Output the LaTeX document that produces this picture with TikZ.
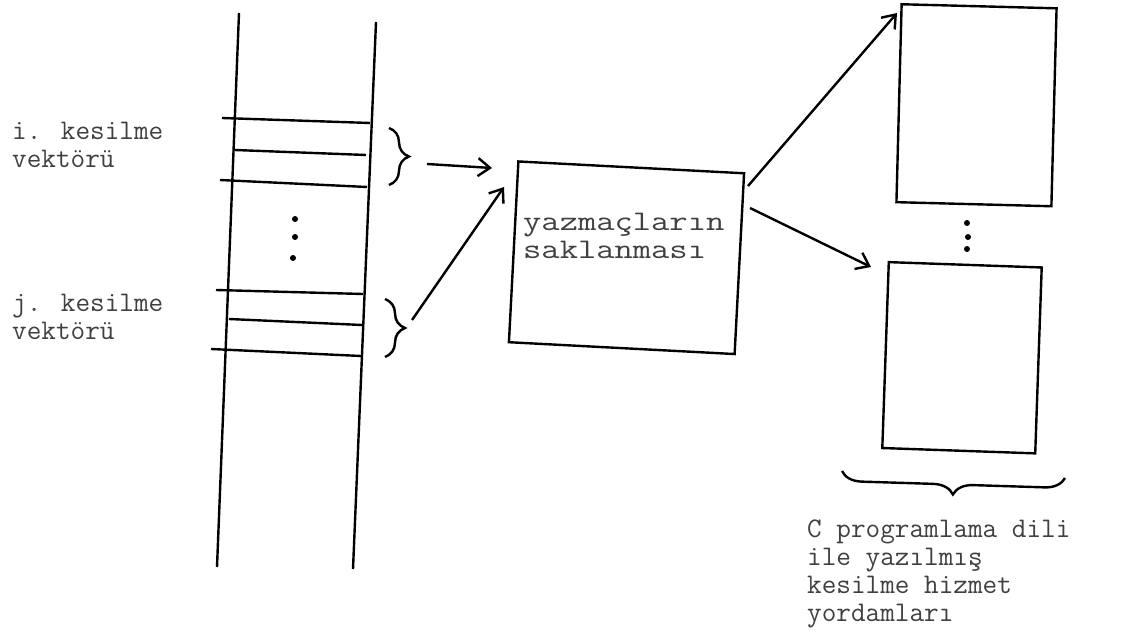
\documentclass[tikz,border=0pt]{standalone}
\usepackage{tikz}
\usetikzlibrary{arrows.meta,decorations.pathreplacing}

\newcommand{\wide}[1]{\scalebox{1.25}[1]{#1}}

\begin{document}
\begin{tikzpicture}[x=0.5pt, y=-0.5pt, line width=1.2pt,
    tw/.style={font=\ttfamily\fontsize{14.2}{14}\selectfont, text=black!75, align=left, inner sep=0pt},
    frame/.style={draw, rectangle, inner sep=0pt},
    brc/.style={decorate, decoration={brace, amplitude=10pt}},
    >={Straight Barb[length=6pt,width=9pt]}]
    \useasboundingbox (0,0) rectangle (1134,641);

    % vector table
    \draw (239,13) -- (217,567);
    \draw (376,22) -- (353,569);
    \draw (222,118) -- (370,123);
    \draw (235,150) -- (366,155);
    \draw (220,180) -- (367,187);
    \draw (216,290) -- (363,294);
    \draw (229,319) -- (362,325);
    \draw (211,349) -- (361,356);
    \foreach \p in {(295,219),(295,237),(293,258)}
        \fill \p circle (1.5pt);

    \node[tw, anchor=north west] (ivec) at (11,121) {i. kesilme\\vektörü};
    \node[tw, anchor=north west] (jvec) at (11,293) {j. kesilme\\vektörü};

    \draw[brc] (389,128) -- (389,185);
    \draw[brc] (385,299) -- (385,357);
    \coordinate (iout) at (427,164);
    \coordinate (jout) at (412,320);

    % register save box
    \node[frame, rotate=-3, minimum width=113pt, minimum height=90.5pt] (save) at (626.5,257.75) {};
    \node[tw, anchor=north west] (savetext) at (522,212) {\wide{yazmaçların}\\\wide{saklanması}};
    \coordinate (iin) at (492,168);
    \coordinate (jin) at (504,187);
    \coordinate (saveout1) at (748,186);
    \coordinate (saveout2) at (750,208);

    \draw[->] (iout) -- (iin);
    \draw[->] (jout) -- (jin);

    % service routines
    \node[frame, rotate=-1.5, minimum width=77.5pt, minimum height=99pt] (isr1) at (976.5,105.25) {};
    \node[frame, rotate=-2, minimum width=76.5pt, minimum height=93pt] (isr2) at (962,357.75) {};
    \coordinate (isr1in) at (897,13);
    \coordinate (isr2in) at (871,267);
    \foreach \p in {(967,223),(968,237),(967,249)}
        \fill \p circle (1.5pt);

    \draw[->] (saveout1) -- (isr1in);
    \draw[->] (saveout2) -- (isr2in);

    \draw[brc] (1065,478) -- (842,471);
    \node[tw, anchor=north west] (isrtext) at (806,519) {C programlama dili\\ile yazılmış\\kesilme hizmet\\yordamları};
\end{tikzpicture}
\end{document}
